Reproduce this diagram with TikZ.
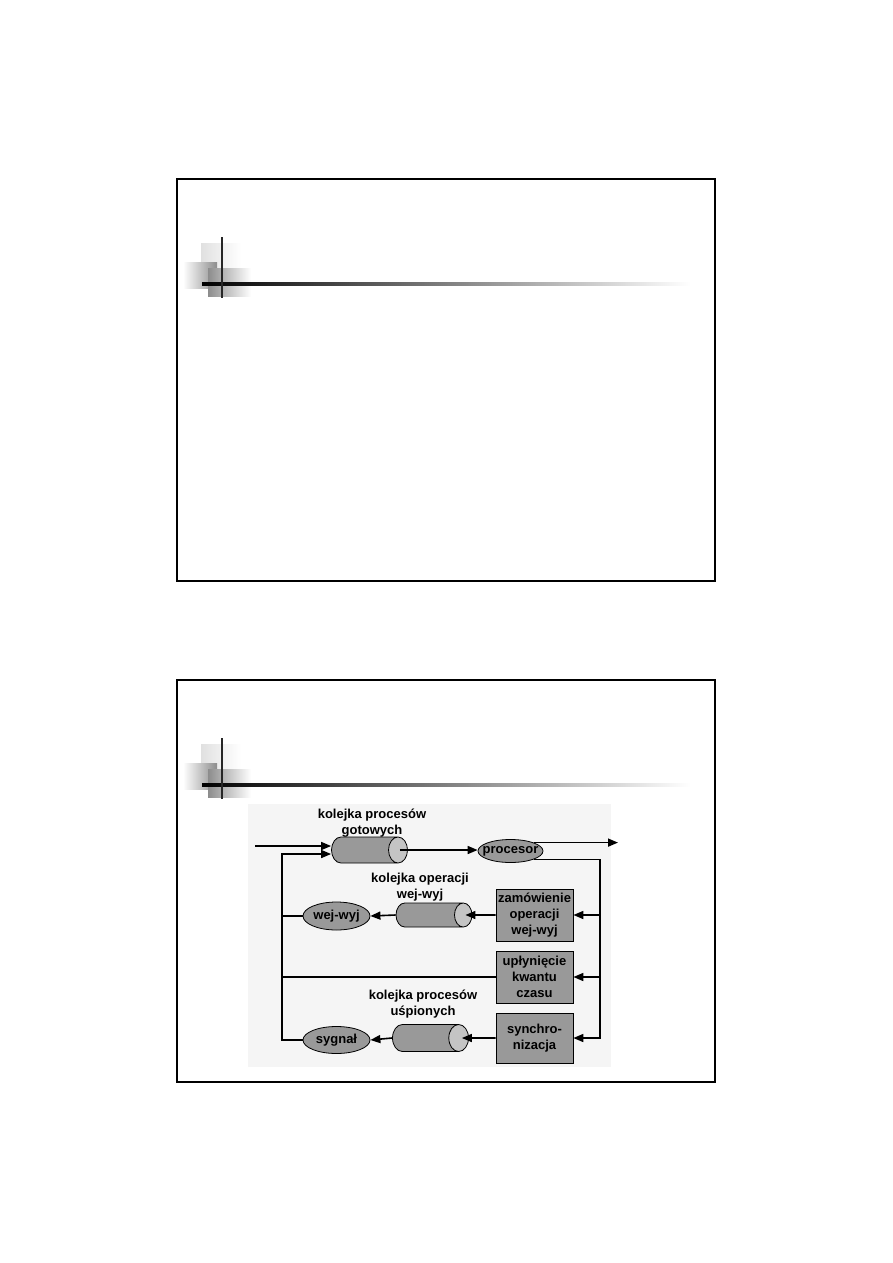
\documentclass[tikz,border=0pt]{standalone}
\usepackage{fontspec}
\setmainfont{Liberation Sans}
\usepackage{tikz}
\usetikzlibrary{shapes.geometric, arrows.meta}
\definecolor{procgray}{RGB}{153,153,153}
\definecolor{capgray}{RGB}{196,196,196}
\definecolor{panelgray}{RGB}{245,245,245}
\tikzset{
  queue/.style   = {cylinder, draw=black, line width=0.8pt, shape aspect=0.73, minimum height=76pt, minimum width=26pt,
                    inner xsep=0pt, inner ysep=13pt, anchor=shape center,
                    cylinder uses custom fill, cylinder body fill=procgray, cylinder end fill=capgray},
  state/.style   = {ellipse, draw=black, line width=0.8pt, fill=procgray, minimum width=67pt, minimum height=27pt, inner xsep=-10pt, inner ysep=-2pt},
  cmdbox/.style  = {rectangle, draw=black, line width=0.8pt, fill=procgray, minimum width=77pt, minimum height=52pt, align=center, inner sep=0pt},
  caption/.style = {align=center, inner sep=0pt},
  conn/.style    = {-{Triangle[length=10pt, width=8pt]}, line width=1.6pt},
  wire/.style    = {line width=1.6pt},
}
\begin{document}
\begin{tikzpicture}[x=1pt, y=1pt, every node/.style={font=\bfseries\fontsize{13}{16}\selectfont}]
  \useasboundingbox[fill=white] (0,0) rectangle (893,-1263);

  % two slide frames with their corner ornament
  \foreach \dy in {0,-501} {
    \begin{scope}[shift={(0,\dy)}]
      \draw[line width=1.6pt] (177,-179) rectangle (715,-581);
      \shade[left color=black!12, right color=white] (201,-243) rectangle (241,-268);
      \shade[left color=white, right color=black!45] (183,-262) rectangle (217,-288);
      \shade[left color=black!45, right color=white] (208,-268) rectangle (251,-296);
      \shade[left color=black, right color=white] (202,-282.5) rectangle (690,-285.5);
      \draw[line width=2pt, black!85] (222,-237) -- (222,-298);
    \end{scope}
  }

  % diagram panel
  \fill[panelgray] (248,-804) rectangle (611,-1067);

  % queues
  \node[queue] (cyl1) at (369.5,-850) {};
  \node[queue, minimum width=24pt, inner ysep=12pt] (cyl2) at (434,-915) {};
  \node[queue, minimum width=27pt, inner ysep=13.5pt] (cyl3) at (430.5,-1038) {};

  \node[caption] (lblready) at (372,-823.5) {kolejka procesów\\gotowych};
  \node[caption] (lblio) at (420,-887) {kolejka operacji\\wej-wyj};
  \node[caption] (lblsleep) at (423,-1004.5) {kolejka procesów\\uśpionych};

  % processor and events
  \node[state, minimum width=65pt, minimum height=23pt] (procesor) at (510.5,-851) {procesor};
  \node[state, minimum height=28pt] (wejwyj) at (336.5,-916) {wej-wyj};
  \node[state] (sygnal) at (336.5,-1040) {sygnał};

  \node[cmdbox] (zam) at (534.5,-915) {zamówienie\\operacji\\wej-wyj};
  \node[cmdbox] (uplyw) at (534.5,-977) {upłynięcie\\kwantu\\czasu};
  \node[cmdbox, minimum height=50pt] (sync) at (534.5,-1038) {synchro-\\nizacja};

  % loose ends of the loops
  \coordinate (in) at (255,-846);
  \coordinate (out) at (618,-842);
  \coordinate (lin) at (282,-854);
  \coordinate (rbot) at (600,-1038);

  % main path
  \draw[conn] (in) -- (in -| cyl1.west);
  \draw[conn, shorten <=-8pt] (cyl1.east) -- (cyl1.east -| procesor.west);
  \draw[conn] (procesor.north east) -- (procesor.north east -| out);

  % right side: leaving the processor
  \draw[conn] (procesor.south east) -| (rbot) -- (sync.east);
  \draw[conn] (rbot |- zam.east) -- (zam.east);
  \draw[conn] (rbot |- uplyw.east) -- (uplyw.east);

  % queues towards events
  \draw[conn, shorten >=-7pt] (zam.west) -- (cyl2.east);
  \draw[conn] (cyl2.west) -- (wejwyj.east);
  \draw[conn, shorten >=-7pt] (sync.west) -- (cyl3.east);
  \draw[conn] (cyl3.west) -- (sygnal.east);

  % left side: back to the ready queue
  \draw[wire] (wejwyj.west) -- (wejwyj.west -| lin);
  \draw[wire] (uplyw.west) -- (uplyw.west -| lin);
  \draw[conn] (sygnal.west) -| (lin) -- (lin -| cyl1.west);
\end{tikzpicture}
\end{document}
